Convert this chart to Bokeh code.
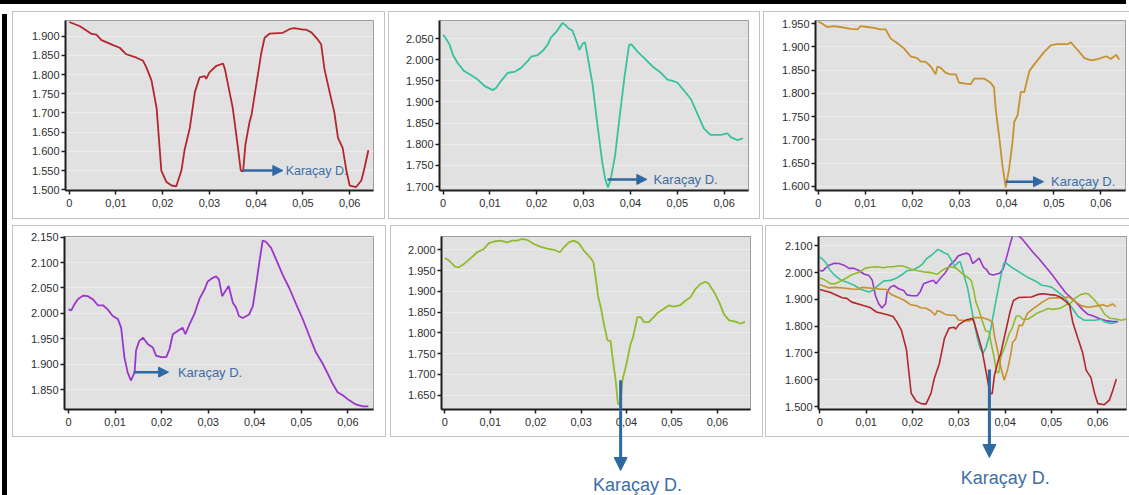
from bokeh.plotting import figure
from bokeh.layouts import row, column
from bokeh.models import (Range1d, FixedTicker, CustomJSTickFormatter, Arrow,
                          NormalHead, Label, Div, Spacer)
from bokeh.embed import file_html
from bokeh.resources import INLINE

# ---------------- data ----------------
red_x = [0, 0.0023, 0.0048, 0.0058, 0.0069, 0.0094, 0.0108, 0.0122, 0.0144, 0.0158, 0.0165, 0.0176, 0.0187,
         0.0197, 0.0208, 0.0219, 0.0229, 0.024, 0.0247, 0.0258, 0.0269, 0.0279, 0.029, 0.0293, 0.030, 0.0315,
         0.0329, 0.0333, 0.035, 0.0361, 0.0367, 0.0372, 0.0377, 0.0386, 0.039, 0.040, 0.0411, 0.0418, 0.0429,
         0.0457, 0.0472, 0.0482, 0.050, 0.0507, 0.0518, 0.0532, 0.0539, 0.0546, 0.0557, 0.0567, 0.0575, 0.0585,
         0.0593, 0.060, 0.0614, 0.0625, 0.0632, 0.064]
red_y = [1.937, 1.926, 1.906, 1.904, 1.890, 1.877, 1.870, 1.853, 1.844, 1.836, 1.819, 1.785, 1.712, 1.550, 1.520,
         1.511, 1.509, 1.550, 1.605, 1.661, 1.755, 1.793, 1.796, 1.789, 1.806, 1.823, 1.829, 1.815, 1.712, 1.609,
         1.550, 1.548, 1.618, 1.678, 1.695, 1.772, 1.857, 1.896, 1.907, 1.909, 1.919, 1.921, 1.917, 1.917, 1.910,
         1.891, 1.879, 1.815, 1.755, 1.703, 1.635, 1.609, 1.550, 1.511, 1.507, 1.524, 1.558, 1.603]

teal_x = [0, 0.0006, 0.0014, 0.0021, 0.0031, 0.0045, 0.006, 0.0074, 0.0088, 0.0106, 0.0113, 0.0124, 0.0138,
          0.0152, 0.0166, 0.018, 0.0188, 0.0202, 0.0213, 0.0223, 0.023, 0.0241, 0.0255, 0.0262, 0.0269, 0.0276,
          0.0284, 0.0291, 0.0298, 0.0303, 0.0308, 0.0319, 0.033, 0.034, 0.0346, 0.0352, 0.0358, 0.0367, 0.0376,
          0.0387, 0.0397, 0.0402, 0.0415, 0.0429, 0.0447, 0.0465, 0.0479, 0.049, 0.05, 0.0515, 0.0529, 0.0543,
          0.0557, 0.0571, 0.0593, 0.0607, 0.0614, 0.0628, 0.064]
teal_y = [2.059, 2.050, 2.035, 2.011, 1.992, 1.973, 1.963, 1.953, 1.938, 1.928, 1.933, 1.950, 1.969, 1.971, 1.980,
          1.996, 2.007, 2.011, 2.021, 2.035, 2.052, 2.065, 2.087, 2.081, 2.073, 2.069, 2.046, 2.023, 2.038, 2.041,
          2.011, 1.942, 1.841, 1.756, 1.718, 1.698, 1.718, 1.772, 1.857, 1.957, 2.035, 2.036, 2.019, 2.004, 1.984,
          1.969, 1.953, 1.950, 1.946, 1.926, 1.907, 1.872, 1.837, 1.822, 1.822, 1.826, 1.817, 1.810, 1.814]

ochre_x = [0, 0.0009, 0.0019, 0.0033, 0.0047, 0.0069, 0.0083, 0.009, 0.0104, 0.0118, 0.0132, 0.0143, 0.0154,
           0.0168, 0.0182, 0.0196, 0.021, 0.0217, 0.0228, 0.0239, 0.0249, 0.0253, 0.026, 0.0271, 0.0281, 0.0292,
           0.0299, 0.0313, 0.0324, 0.0331, 0.0352, 0.0366, 0.0373, 0.0377, 0.0384, 0.0391, 0.0398, 0.0405, 0.0412,
           0.0416, 0.0423, 0.043, 0.0437, 0.0448, 0.0458, 0.0469, 0.048, 0.0494, 0.0508, 0.0529, 0.0536, 0.055,
           0.0565, 0.0579, 0.0593, 0.0611, 0.0621, 0.0632, 0.0639]
ochre_y = [1.955, 1.950, 1.943, 1.945, 1.943, 1.939, 1.938, 1.945, 1.943, 1.941, 1.938, 1.938, 1.918, 1.908, 1.897,
           1.880, 1.876, 1.869, 1.868, 1.858, 1.841, 1.858, 1.855, 1.844, 1.841, 1.841, 1.823, 1.821, 1.820, 1.832,
           1.832, 1.823, 1.813, 1.763, 1.707, 1.644, 1.598, 1.637, 1.693, 1.739, 1.753, 1.804, 1.802, 1.848, 1.862,
           1.876, 1.890, 1.904, 1.906, 1.906, 1.910, 1.894, 1.876, 1.871, 1.874, 1.880, 1.874, 1.883, 1.873]

purple_x = [0, 0.0006, 0.0011, 0.002, 0.0031, 0.0041, 0.0052, 0.0063, 0.0074, 0.0084, 0.0095, 0.0106, 0.0113,
            0.012, 0.0127, 0.0134, 0.0142, 0.0145, 0.0152, 0.016, 0.017, 0.0181, 0.0188, 0.0199, 0.021, 0.0217,
            0.0224, 0.0235, 0.0245, 0.0251, 0.026, 0.027, 0.0281, 0.0292, 0.0299, 0.031, 0.0317, 0.0323, 0.033,
            0.0335, 0.0344, 0.0353, 0.036, 0.0366, 0.0374, 0.0388, 0.0396, 0.0403, 0.041, 0.0417, 0.0424, 0.0435,
            0.0446, 0.046, 0.0474, 0.0489, 0.0503, 0.0517, 0.0531, 0.0546, 0.0557, 0.0567, 0.0578, 0.0589, 0.0603,
            0.0617, 0.0632, 0.0644]
purple_y = [2.008, 2.006, 2.015, 2.028, 2.035, 2.034, 2.028, 2.016, 2.016, 2.008, 1.995, 1.989, 1.972, 1.914,
            1.884, 1.868, 1.884, 1.927, 1.946, 1.952, 1.940, 1.933, 1.917, 1.914, 1.914, 1.930, 1.959, 1.966,
            1.972, 1.959, 1.979, 1.998, 2.028, 2.047, 2.063, 2.070, 2.073, 2.067, 2.034, 2.041, 2.054, 2.021,
            2.011, 1.995, 1.991, 1.998, 2.015, 2.057, 2.102, 2.143, 2.141, 2.129, 2.106, 2.076, 2.050, 2.018,
            1.989, 1.956, 1.924, 1.901, 1.881, 1.862, 1.845, 1.839, 1.829, 1.821, 1.817, 1.817]

green_x = [0, 0.0009, 0.0023, 0.0031, 0.0042, 0.0057, 0.0071, 0.0086, 0.0097, 0.0108, 0.0123, 0.0137, 0.0148,
           0.0159, 0.017, 0.0181, 0.0196, 0.0211, 0.0225, 0.024, 0.0253, 0.0262, 0.0273, 0.0284, 0.0295, 0.0306,
           0.0321, 0.0327, 0.0332, 0.0337, 0.0344, 0.035, 0.0358, 0.0365, 0.0369, 0.0376, 0.0381, 0.0386, 0.0391,
           0.04, 0.0409, 0.0414, 0.0424, 0.0431, 0.0438, 0.0449, 0.046, 0.0468, 0.0482, 0.0493, 0.0504, 0.0519,
           0.053, 0.0541, 0.0552, 0.0563, 0.0574, 0.0581, 0.0593, 0.0604, 0.0615, 0.0626, 0.064, 0.0651, 0.0661]
green_y = [1.980, 1.974, 1.959, 1.958, 1.966, 1.980, 1.994, 2.002, 2.016, 2.020, 2.022, 2.018, 2.022, 2.022, 2.026,
           2.024, 2.014, 2.007, 2.003, 2.000, 1.994, 2.006, 2.018, 2.022, 2.016, 1.998, 1.980, 1.970, 1.934, 1.890,
           1.858, 1.822, 1.782, 1.780, 1.742, 1.686, 1.630, 1.626, 1.686, 1.726, 1.774, 1.788, 1.838, 1.838, 1.826,
           1.826, 1.838, 1.848, 1.858, 1.866, 1.863, 1.867, 1.878, 1.886, 1.906, 1.918, 1.923, 1.918, 1.898, 1.874,
           1.844, 1.830, 1.827, 1.822, 1.827]

x_ticks = [0, 0.01, 0.02, 0.03, 0.04, 0.05, 0.06]
y_ticks_1 = [1.50, 1.55, 1.60, 1.65, 1.70, 1.75, 1.80, 1.85, 1.90]
y_ticks_2 = [1.70, 1.75, 1.80, 1.85, 1.90, 1.95, 2.00, 2.05]
y_ticks_3 = [1.60, 1.65, 1.70, 1.75, 1.80, 1.85, 1.90, 1.95]
y_ticks_4 = [1.85, 1.90, 1.95, 2.00, 2.05, 2.10, 2.15]
y_ticks_5 = [1.65, 1.70, 1.75, 1.80, 1.85, 1.90, 1.95, 2.00]
y_ticks_6 = [1.5, 1.6, 1.7, 1.8, 1.9, 2.0, 2.1]

label_text = "Karaçay D."

RED, TEAL, OCHRE, PURPLE, GREEN = "#b3262c", "#35c29f", "#c8912f", "#9a36c9", "#92bb2b"
ARROW = "#2f69a3"
TXT = "#3c6ea6"
FONT = "Liberation Sans"

x_fmt = CustomJSTickFormatter(code="""
    if (Math.abs(tick) < 1e-9) { return "0"; }
    return tick.toFixed(2).replace(".", ",");
""")
y_fmt = CustomJSTickFormatter(code="return tick.toFixed(3);")


def panel(w, h, xr, yr, yticks, bl, br, bt, bb):
    p = figure(width=w, height=h, x_range=Range1d(*xr), y_range=Range1d(*yr),
               output_backend="svg", toolbar_location=None, tools="",
               min_border_left=bl, min_border_right=br, min_border_top=bt, min_border_bottom=bb,
               background_fill_color="#e1e1e1", border_fill_color=None,
               outline_line_color="#9c9c9c", outline_line_width=1)
    p.styles = {"background-color": "white", "box-shadow": "inset 0 0 0 1px #c2c2c2"}
    p.xaxis.ticker = FixedTicker(ticks=x_ticks)
    p.yaxis.ticker = FixedTicker(ticks=yticks)
    p.xaxis.formatter = x_fmt
    p.yaxis.formatter = y_fmt
    for ax in p.axis:
        ax.axis_line_width = 2
        ax.axis_line_color = "#1e1e1e"
        ax.major_tick_line_color = "#1e1e1e"
        ax.major_tick_line_width = 1.5
        ax.major_tick_in = 0
        ax.major_tick_out = 4
        ax.minor_tick_line_color = None
        ax.major_label_text_font = FONT
        ax.major_label_text_font_size = "11px"
        ax.major_label_text_color = "#2e2e2e"
    p.xaxis.major_label_standoff = 4
    p.yaxis.major_label_standoff = 2
    p.xgrid.grid_line_color = None
    p.ygrid.grid_line_color = "#ececec"
    p.ygrid.grid_line_width = 1
    return p


def h_arrow(p, x0, x1, y, tx, size="13px"):
    p.add_layout(Arrow(end=NormalHead(size=10, fill_color=ARROW, line_color=ARROW),
                       x_start=x0, y_start=y, x_end=x1, y_end=y,
                       line_color=ARROW, line_width=2.5))
    p.add_layout(Label(x=tx, y=y, text=label_text, text_font=FONT, text_font_size=size,
                       text_color=TXT, text_baseline="middle", text_align="left"))


# ---- top row ----
p1 = panel(373, 208, (-0.0008, 0.0651), (1.498, 1.941), y_ticks_1, 53, 12, 8, 27)
p1.line(red_x, red_y, line_color=RED, line_width=1.8)
h_arrow(p1, 0.0372, 0.0457, 1.550, 0.0463, "12.5px")

p2 = panel(372, 208, (-0.00077, 0.0652), (1.6907, 2.0926), y_ticks_2, 51, 12, 9, 25)
p2.line(teal_x, teal_y, line_color=TEAL, line_width=1.8)
h_arrow(p2, 0.0351, 0.0435, 1.717, 0.0449)

p3 = panel(367, 208, (-0.00057, 0.0652), (1.591, 1.957), y_ticks_3, 52, 5, 6, 29)
p3.line(ochre_x, ochre_y, line_color=OCHRE, line_width=1.8)
h_arrow(p3, 0.0398, 0.0478, 1.610, 0.0494)

# ---- bottom row ----
p4 = panel(374, 212, (-0.00086, 0.0655), (1.811, 2.1513), y_ticks_4, 52, 13, 10, 27)
p4.line(purple_x, purple_y, line_color=PURPLE, line_width=1.8)
h_arrow(p4, 0.0140, 0.0215, 1.8845, 0.0235)

p5 = panel(373, 212, (-0.00075, 0.0673), (1.6155, 2.032), y_ticks_5, 51, 13, 11, 27)
p5.line(green_x, green_y, line_color=GREEN, line_width=1.8)
p5.add_layout(Arrow(end=None, x_start=0.0387, y_start=1.686, x_end=0.0387, y_end=1.0,
                    line_color=ARROW, line_width=3))

p6 = panel(365, 212, (-0.0003, 0.0662), (1.489, 2.135), y_ticks_6, 53, 4, 10, 28)
for xs, ys, c in [(purple_x, purple_y, PURPLE), (teal_x, teal_y, TEAL), (green_x, green_y, GREEN),
                  (ochre_x, ochre_y, OCHRE), (red_x, red_y, RED)]:
    p6.line(xs, ys, line_color=c, line_width=1.6)
p6.add_layout(Arrow(end=None, x_start=0.0366, y_start=1.638, x_end=0.0366, y_end=1.0,
                    line_color=ARROW, line_width=3))

# ---- transparent strip that overlaps the bottom axes: arrow shafts, heads, captions ----
STRIP_H = 87


def strip(w, src, bl, br):
    s = figure(width=w, height=STRIP_H, x_range=src.x_range, y_range=Range1d(0, STRIP_H),
               x_axis_location=None, y_axis_location=None,
               output_backend="svg", toolbar_location=None, tools="",
               min_border_left=bl, min_border_right=br, min_border_top=0, min_border_bottom=0,
               background_fill_color=None, border_fill_color=None, outline_line_color=None)
    s.grid.visible = False
    return s


s5 = strip(373, p5, 51, 13)
s5.add_layout(Arrow(end=NormalHead(size=13, fill_color=ARROW, line_color=ARROW),
                    x_start=0.0387, y_start=STRIP_H + 2, x_end=0.0387, y_end=27,
                    line_color=ARROW, line_width=3))
s5.add_layout(Label(x=0.0424, y=13, text=label_text, text_font=FONT, text_font_size="18px",
                    text_color=TXT, text_baseline="middle", text_align="center"))

s6 = strip(365, p6, 53, 4)
s6.add_layout(Arrow(end=NormalHead(size=13, fill_color=ARROW, line_color=ARROW),
                    x_start=0.0366, y_start=STRIP_H + 2, x_end=0.0366, y_end=40,
                    line_color=ARROW, line_width=3))
s6.add_layout(Label(x=0.0400, y=20, text=label_text, text_font=FONT, text_font_size="18px",
                    text_color=TXT, text_baseline="middle", text_align="center"))

top_bar = Div(width=1129, height=7, styles={"background-color": "black"})
left_bar = Div(width=5, height=488, styles={"background-color": "black"})

row1 = row(p1, Spacer(width=3), p2, Spacer(width=3), p3)
row2 = row(p4, Spacer(width=4), p5, Spacer(width=2), p6)
row3 = row(Spacer(width=374, height=STRIP_H), Spacer(width=4), s5, Spacer(width=2), s6)
row3.styles = {"margin-top": "-27px"}
body = column(Spacer(height=2), row1, Spacer(height=6), row2, row3)

root = column(top_bar, row(Spacer(width=5), left_bar, body))
root.styles = {"margin-left": "-8px", "margin-top": "-8px", "background-color": "white"}

open("out.html", "w").write(file_html(root, INLINE))
